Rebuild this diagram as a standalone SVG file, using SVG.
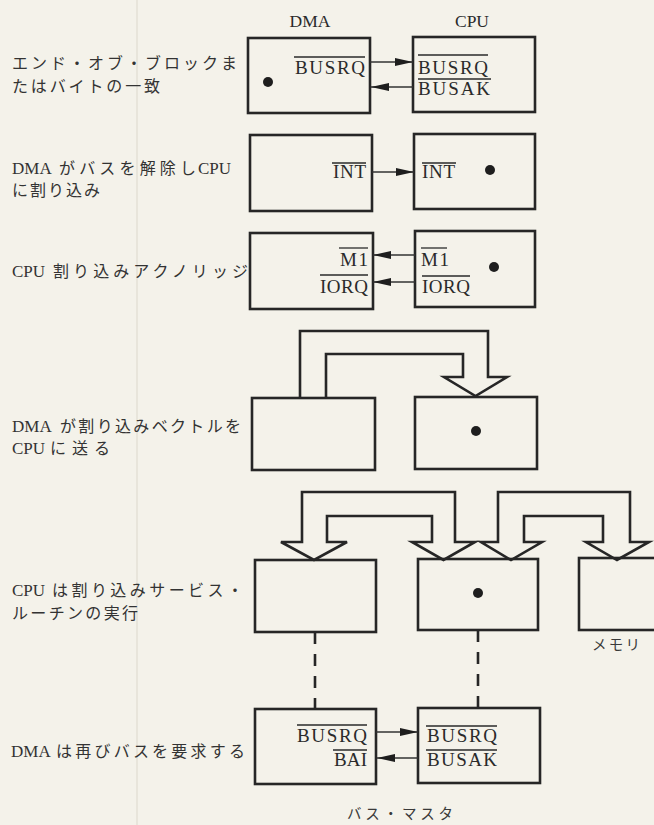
<svg xmlns="http://www.w3.org/2000/svg" width="654" height="825" viewBox="0 0 654 825">
<style>
.box{fill:none;stroke:#262626;stroke-width:2.6}
.bus{fill:none;stroke:#262626;stroke-width:2.6;stroke-linejoin:miter}
.wire{fill:none;stroke:#333;stroke-width:1.6}
.bar{fill:none;stroke:#2a2a2a;stroke-width:1.3}
.dash{fill:none;stroke:#262626;stroke-width:2.6;stroke-dasharray:12 10}
.dot{fill:#1e1e1e}
.sig{font-family:"Liberation Serif","Times New Roman",serif;font-size:19px;fill:#2a2a2a}
.hdr{font-family:"Liberation Serif","Times New Roman",serif;font-size:17.5px;fill:#2a2a2a}
.lat{font-family:"Liberation Serif","Times New Roman",serif;font-size:17px;fill:#333}
.cjk{font-family:"Noto Sans CJK JP",sans-serif;font-size:16px;fill:#333}
.jp{font-family:"Noto Sans CJK JP",sans-serif;font-size:14.5px;fill:#3a3a3a}
</style>
<defs>
<marker id="ah" viewBox="0 0 18 8" refX="18" refY="4" markerWidth="18" markerHeight="8" markerUnits="userSpaceOnUse" orient="auto">
<path d="M0,0 L18,4 L0,8 Z" fill="#1e1e1e"/>
</marker>
</defs>
<rect x="0" y="0" width="654" height="825" fill="#f4f2ea"/>
<line x1="137" y1="0" x2="137" y2="825" stroke="#dcd8cc" stroke-width="1"/>

<g id="labels">
<text class="cjk" x="12" y="69" textLength="225" lengthAdjust="spacing">エンド・オブ・ブロックま</text>
<text class="cjk" x="12" y="92" textLength="148" lengthAdjust="spacing">たはバイトの一致</text>
<text y="174"><tspan class="lat" x="12">DMA</tspan><tspan class="cjk" x="59" textLength="137" lengthAdjust="spacing">がバスを解除し</tspan></text>
<text class="lat" x="198" y="174">CPU</text>
<text class="cjk" x="12" y="196" textLength="88" lengthAdjust="spacing">に割り込み</text>
<text y="277"><tspan class="lat" x="12">CPU</tspan><tspan class="cjk" x="53" textLength="195" lengthAdjust="spacing">割り込みアクノリッジ</tspan></text>
<text y="432"><tspan class="lat" x="12">DMA</tspan><tspan class="cjk" x="60" textLength="181" lengthAdjust="spacing">が割り込みベクトルを</tspan></text>
<text y="454"><tspan class="lat" x="12">CPU</tspan><tspan class="cjk" x="50" textLength="60" lengthAdjust="spacing">に送る</tspan></text>
<text y="596"><tspan class="lat" x="12">CPU</tspan><tspan class="cjk" x="52" textLength="191" lengthAdjust="spacing">は割り込みサービス・</tspan></text>
<text class="cjk" x="12" y="618.5" textLength="126" lengthAdjust="spacing">ルーチンの実行</text>
<text y="757"><tspan class="lat" x="11">DMA</tspan><tspan class="cjk" x="56" textLength="189" lengthAdjust="spacing">は再びバスを要求する</tspan></text>
<text class="hdr" x="310" y="27" text-anchor="middle">DMA</text>
<text class="hdr" x="472" y="27" text-anchor="middle">CPU</text>
<text class="jp" x="400" y="819" text-anchor="middle" textLength="106" lengthAdjust="spacing">バス・マスタ</text>
</g>

<g id="dma1">
<rect class="box" x="248" y="38" width="122" height="75"/>
<text class="sig" x="365" y="74" text-anchor="end" textLength="70" lengthAdjust="spacing">BUSRQ</text>
<line class="bar" x1="294" y1="57" x2="365" y2="57"/>
<circle class="dot" cx="268" cy="82" r="5"/>
</g>
<g id="cpu1">
<rect class="box" x="413" y="37" width="122" height="75"/>
<text class="sig" x="418" y="74" textLength="70" lengthAdjust="spacing">BUSRQ</text>
<line class="bar" x1="418" y1="55" x2="488" y2="55"/>
<text class="sig" x="418" y="95" textLength="72" lengthAdjust="spacing">BUSAK</text>
<line class="bar" x1="418" y1="79" x2="491" y2="79"/>
</g>

<g id="dma2">
<rect class="box" x="250" y="135" width="122" height="76"/>
<text class="sig" x="366" y="178" text-anchor="end" textLength="33" lengthAdjust="spacing">INT</text>
<line class="bar" x1="332" y1="163" x2="366" y2="163"/>
</g>
<g id="cpu2">
<rect class="box" x="414" y="134" width="121" height="75"/>
<text class="sig" x="422" y="178" textLength="33" lengthAdjust="spacing">INT</text>
<line class="bar" x1="422" y1="163" x2="456" y2="163"/>
<circle class="dot" cx="490" cy="170" r="5"/>
</g>

<g id="dma3">
<rect class="box" x="250" y="233" width="123" height="76"/>
<text class="sig" x="368" y="266" text-anchor="end" textLength="28" lengthAdjust="spacing">M1</text>
<line class="bar" x1="339" y1="248" x2="368" y2="248"/>
<text class="sig" x="368" y="293" text-anchor="end" textLength="48" lengthAdjust="spacing">IORQ</text>
<line class="bar" x1="320" y1="275" x2="368" y2="275"/>
</g>
<g id="cpu3">
<rect class="box" x="415" y="231" width="120" height="76"/>
<text class="sig" x="421" y="266" textLength="28" lengthAdjust="spacing">M1</text>
<line class="bar" x1="421" y1="248" x2="447" y2="248"/>
<text class="sig" x="422" y="293" textLength="48" lengthAdjust="spacing">IORQ</text>
<line class="bar" x1="422" y1="276" x2="470" y2="276"/>
<circle class="dot" cx="494" cy="267" r="5"/>
</g>

<g id="dma4">
<rect class="box" x="252" y="398" width="123" height="72"/>
</g>
<g id="cpu4">
<rect class="box" x="415" y="397" width="122" height="72"/>
<circle class="dot" cx="476" cy="431" r="5"/>
</g>

<g id="dma5">
<rect class="box" x="255" y="560" width="121" height="72"/>
</g>
<g id="cpu5">
<rect class="box" x="418" y="559" width="120" height="71"/>
<circle class="dot" cx="478" cy="593" r="5"/>
</g>
<g id="memory">
<rect class="box" x="579" y="558" width="100" height="72"/>
<text class="jp" x="616" y="650" text-anchor="middle" textLength="48" lengthAdjust="spacing">メモリ</text>
</g>

<g id="dma6">
<rect class="box" x="255" y="709" width="121" height="75"/>
<text class="sig" x="367" y="742" text-anchor="end" textLength="70" lengthAdjust="spacing">BUSRQ</text>
<line class="bar" x1="297" y1="725" x2="367" y2="725"/>
<text class="sig" x="367" y="766" text-anchor="end" textLength="33" lengthAdjust="spacing">BAI</text>
<line class="bar" x1="333" y1="750" x2="367" y2="750"/>
</g>
<g id="cpu6">
<rect class="box" x="418" y="708" width="122" height="75"/>
<text class="sig" x="427" y="742" textLength="70" lengthAdjust="spacing">BUSRQ</text>
<line class="bar" x1="426" y1="726" x2="497" y2="726"/>
<text class="sig" x="427" y="766" textLength="70" lengthAdjust="spacing">BUSAK</text>
<line class="bar" x1="426" y1="750" x2="497" y2="750"/>
</g>

<g id="connectors">
<line class="wire" x1="370" y1="62" x2="413" y2="62" marker-end="url(#ah)"/>
<line class="wire" x1="413" y1="87" x2="371" y2="87" marker-end="url(#ah)"/>
<line class="wire" x1="372" y1="172" x2="414" y2="172" marker-end="url(#ah)"/>
<line class="wire" x1="415" y1="255" x2="373" y2="255" marker-end="url(#ah)"/>
<line class="wire" x1="415" y1="282" x2="373" y2="282" marker-end="url(#ah)"/>
<line class="wire" x1="376" y1="732" x2="418" y2="732" marker-end="url(#ah)"/>
<line class="wire" x1="418" y1="758" x2="377" y2="758" marker-end="url(#ah)"/>
<polyline class="bus" points="300,398 300,331 488,331 488,377 507,377 475.5,396 444,377 463,377 463,354 326,354 326,398"/>
<polygon class="bus" points="281,542 302,542 302,492 455,492 455,542 475,542 443.5,560 412,542 432,542 432,516 327,516 327,542 347,542 314,560"/>
<polygon class="bus" points="481,542 498,542 498,492 630,492 630,542 649,542 617,560 586,542 603,542 603,516 524,516 524,542 542,542 511,560"/>
<line class="dash" x1="315" y1="632" x2="315" y2="709"/>
<line class="dash" x1="478" y1="630" x2="478" y2="708"/>
</g>
</svg>
